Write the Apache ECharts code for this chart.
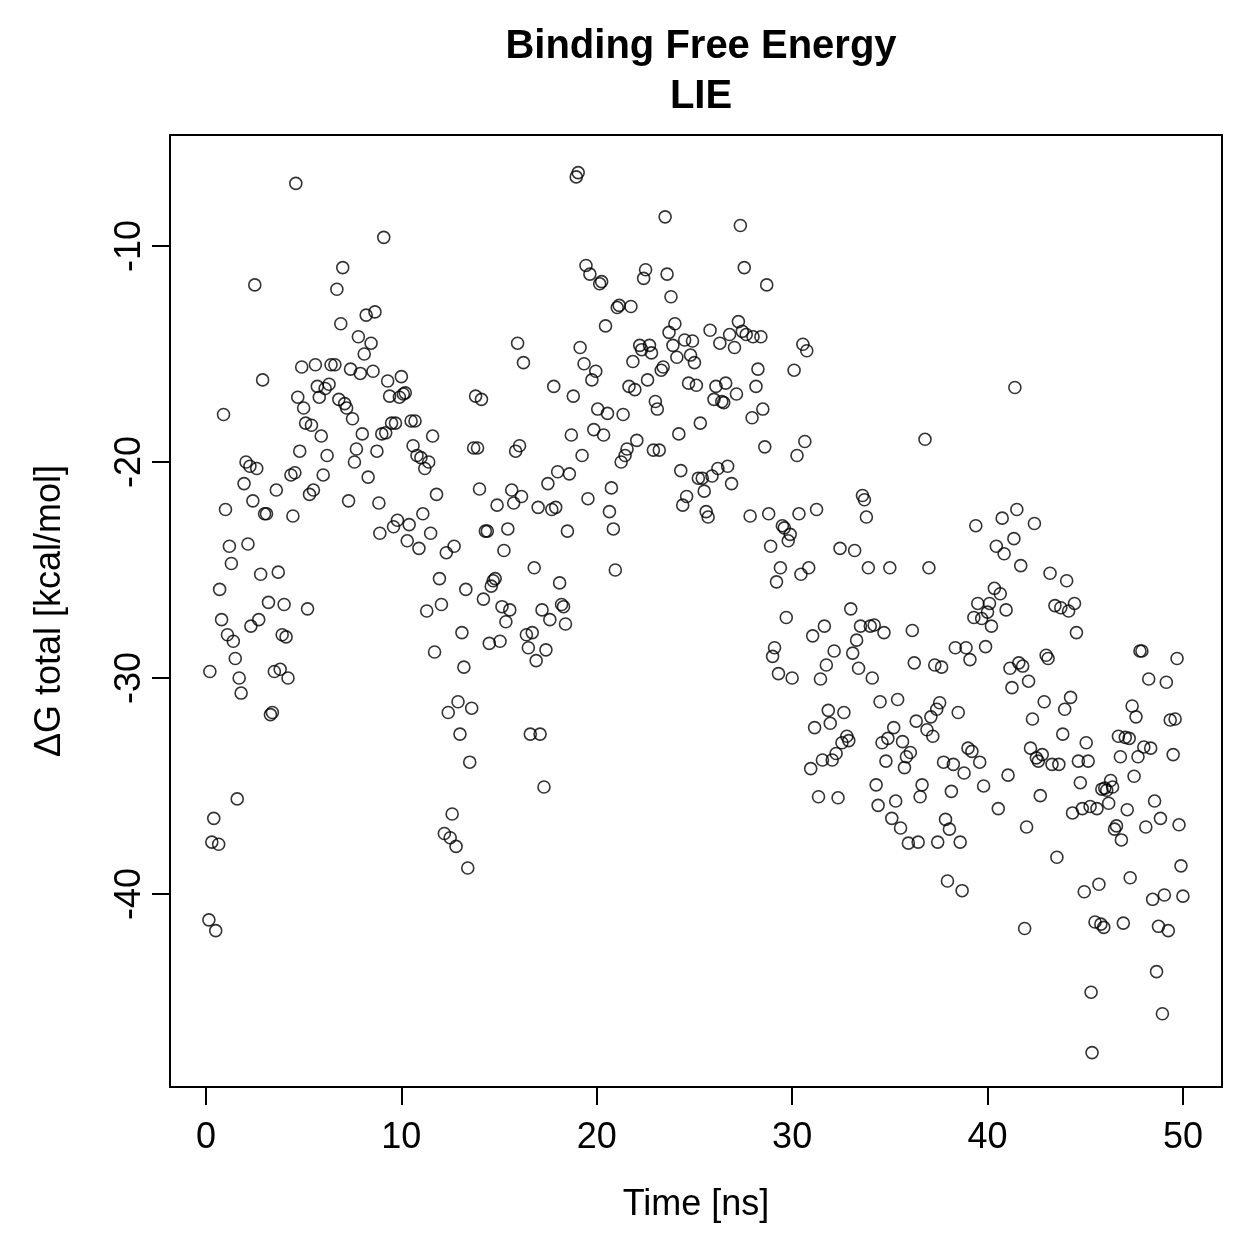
<!DOCTYPE html>
<html>
<head>
<meta charset="utf-8">
<script src="https://cdn.jsdelivr.net/npm/echarts@6/dist/echarts.min.js"></script>
<style>
  html, body { margin: 0; padding: 0; background: #fff; }
  #chart { width: 1259px; height: 1259px; }
</style>
</head>
<body>
<div id="chart"></div>
<script>
// time [ns]
const timeNs = [
  0.15, 0.2, 0.3, 0.4, 0.5, 0.65, 0.7, 0.8, 0.9, 1.0, 1.1, 1.2, 1.3, 1.4, 1.5, 1.6, 1.7, 1.8, 1.95, 2.05,
  2.15, 2.25, 2.3, 2.4, 2.5, 2.6, 2.7, 2.8, 2.9, 3.0, 3.1, 3.2, 3.3, 3.4, 3.5, 3.6, 3.7, 3.8, 3.9, 4.0,
  4.1, 4.2, 4.35, 4.45, 4.55, 4.6, 4.7, 4.8, 4.9, 5.0, 5.1, 5.2, 5.3, 5.4, 5.5, 5.6, 5.7, 5.8, 5.9, 6.0,
  6.1, 6.2, 6.3, 6.4, 6.6, 6.7, 6.8, 6.9, 7.0, 7.1, 7.2, 7.3, 7.4, 7.5, 7.6, 7.7, 7.8, 7.9, 8.0, 8.1,
  8.2, 8.3, 8.45, 8.55, 8.65, 8.75, 8.85, 8.9, 9.0, 9.1, 9.2, 9.3, 9.4, 9.5, 9.6, 9.7, 9.8, 9.9, 10.0, 10.1,
  10.2, 10.3, 10.4, 10.5, 10.6, 10.7, 10.8, 10.9, 11.0, 11.1, 11.2, 11.3, 11.4, 11.5, 11.6, 11.7, 11.8, 11.95, 12.05, 12.2,
  12.3, 12.4, 12.5, 12.6, 12.7, 12.8, 12.9, 13.0, 13.1, 13.2, 13.3, 13.4, 13.5, 13.6, 13.7, 13.8, 13.9, 14.0, 14.1, 14.2,
  14.3, 14.4, 14.5, 14.6, 14.7, 14.8, 14.9, 15.05, 15.15, 15.25, 15.35, 15.45, 15.55, 15.65, 15.75, 15.85, 15.95, 16.05, 16.15, 16.25,
  16.4, 16.5, 16.6, 16.7, 16.8, 16.9, 17.0, 17.1, 17.2, 17.3, 17.4, 17.5, 17.6, 17.7, 17.8, 17.9, 18.0, 18.1, 18.2, 18.3,
  18.4, 18.5, 18.6, 18.7, 18.8, 18.95, 19.05, 19.15, 19.25, 19.35, 19.45, 19.55, 19.65, 19.75, 19.85, 19.95, 20.05, 20.15, 20.25, 20.35,
  20.45, 20.55, 20.65, 20.75, 20.85, 20.95, 21.05, 21.15, 21.25, 21.35, 21.45, 21.55, 21.65, 21.75, 21.85, 21.95, 22.05, 22.2, 22.3, 22.4,
  22.5, 22.6, 22.7, 22.8, 22.9, 23.0, 23.1, 23.2, 23.3, 23.4, 23.5, 23.6, 23.7, 23.8, 23.9, 24.0, 24.1, 24.2, 24.3, 24.4,
  24.5, 24.6, 24.7, 24.8, 24.9, 25.0, 25.1, 25.2, 25.3, 25.4, 25.5, 25.6, 25.7, 25.8, 25.9, 26.0, 26.1, 26.2, 26.3, 26.4,
  26.5, 26.6, 26.7, 26.8, 26.9, 27.05, 27.15, 27.25, 27.35, 27.45, 27.55, 27.65, 27.85, 27.95, 28.0, 28.15, 28.25, 28.4, 28.5, 28.6,
  28.7, 28.8, 28.9, 29.0, 29.1, 29.2, 29.3, 29.4, 29.5, 29.6, 29.7, 29.8, 29.9, 30.0, 30.1, 30.25, 30.35, 30.45, 30.55, 30.65,
  30.75, 30.85, 30.95, 31.05, 31.15, 31.25, 31.35, 31.45, 31.55, 31.65, 31.75, 31.85, 31.95, 32.05, 32.15, 32.25, 32.35, 32.45, 32.55, 32.65,
  32.8, 32.9, 33.0, 33.1, 33.2, 33.3, 33.4, 33.5, 33.6, 33.7, 33.8, 33.9, 34.0, 34.1, 34.2, 34.3, 34.4, 34.5, 34.6, 34.7,
  34.8, 34.9, 35.0, 35.1, 35.2, 35.3, 35.4, 35.55, 35.65, 35.75, 35.85, 35.95, 36.05, 36.15, 36.25, 36.35, 36.45, 36.55, 36.65, 36.8,
  36.9, 37.0, 37.1, 37.2, 37.3, 37.4, 37.45, 37.55, 37.65, 37.75, 37.85, 37.95, 38.05, 38.15, 38.25, 38.35, 38.5, 38.6, 38.7, 38.8,
  38.9, 39.0, 39.1, 39.2, 39.3, 39.4, 39.5, 39.6, 39.7, 39.8, 39.9, 40.0, 40.1, 40.2, 40.35, 40.45, 40.55, 40.65, 40.75, 40.85,
  40.95, 41.05, 41.15, 41.25, 41.35, 41.4, 41.5, 41.6, 41.7, 41.8, 41.9, 42.0, 42.1, 42.2, 42.3, 42.4, 42.5, 42.6, 42.7, 42.8,
  42.9, 43.0, 43.1, 43.2, 43.3, 43.45, 43.55, 43.65, 43.75, 43.85, 43.95, 44.05, 44.15, 44.25, 44.35, 44.45, 44.55, 44.65, 44.75, 44.85,
  44.95, 45.05, 45.15, 45.25, 45.3, 45.35, 45.5, 45.6, 45.7, 45.8, 45.85, 45.95, 46.0, 46.1, 46.2, 46.3, 46.4, 46.5, 46.6, 46.7,
  46.8, 46.85, 46.95, 47.05, 47.15, 47.25, 47.3, 47.4, 47.5, 47.6, 47.7, 47.8, 47.9, 48.0, 48.1, 48.25, 48.35, 48.45, 48.55, 48.65,
  48.75, 48.85, 48.95, 49.05, 49.15, 49.25, 49.35, 49.5, 49.6, 49.7, 49.8, 49.9, 50.0
]

// dG total [kcal/mol], same order as timeNs
const dgTotal = [
  -41.2, -29.7, -37.6, -36.5, -41.7, -37.7, -25.9, -27.3, -17.8, -22.2, -28.0, -23.9, -24.7, -28.3, -29.1, -35.6, -30.0, -30.7, -21.0, -20.0,
  -23.8, -20.2, -27.6, -21.8, -11.8, -20.3, -27.3, -25.2, -16.2, -22.4, -22.4, -26.5, -31.7, -31.6, -29.7, -21.3, -25.1, -29.6, -28.0, -26.6,
  -28.1, -30.0, -20.6, -22.5, -20.5, -7.1, -17.0, -19.5, -15.6, -17.5, -18.2, -26.8, -21.5, -18.3, -21.3, -15.5, -16.5, -17.0, -18.8, -20.6,
  -16.6, -19.7, -16.4, -15.5, -15.5, -12.0, -17.1, -13.6, -11.0, -17.3, -17.5, -21.8, -15.7, -18.0, -20.0, -19.4, -14.2, -15.9, -18.7, -15.0,
  -13.2, -20.7, -14.5, -15.8, -13.05, -19.5, -21.9, -23.3, -18.7, -9.6, -18.65, -16.25, -16.95, -18.2, -23.0, -18.2, -22.7, -17.0, -16.05, -16.85,
  -16.8, -23.65, -22.9, -18.1, -19.25, -18.1, -19.7, -24.0, -19.8, -22.4, -20.3, -26.9, -20.0, -23.3, -18.8, -28.8, -21.5, -25.4, -26.6, -37.2,
  -24.2, -31.6, -37.4, -36.3, -23.9, -37.8, -31.1, -32.6, -27.9, -29.5, -25.9, -38.8, -33.9, -31.4, -19.35, -16.95, -19.35, -21.25, -17.1, -26.35,
  -23.2, -23.2, -28.4, -25.75, -25.5, -25.4, -22.0, -28.3, -26.7, -24.1, -27.4, -23.1, -26.85, -21.3, -21.9, -19.5, -14.5, -19.25, -21.6, -15.4,
  -28.0, -28.6, -32.6, -27.9, -24.9, -29.2, -22.1, -32.6, -26.85, -35.05, -28.7, -21.0, -27.3, -22.2, -16.5, -22.1, -20.45, -25.6, -26.6, -26.7,
  -27.5, -23.2, -20.55, -18.75, -16.95, -6.8, -6.6, -14.7, -19.7, -15.45, -10.9, -21.7, -11.3, -16.2, -18.5, -15.8, -17.55, -11.75, -11.65, -18.75,
  -13.7, -17.75, -22.3, -21.2, -23.1, -25.0, -12.85, -12.75, -20.0, -17.8, -19.7, -19.4, -16.5, -12.8, -15.35, -16.65, -19.0, -14.6, -14.8, -11.5,
  -11.1, -16.2, -14.6, -14.95, -19.45, -17.2, -17.55, -19.45, -15.75, -15.6, -8.65, -11.3, -14.0, -12.35, -14.6, -13.6, -15.15, -18.7, -20.4, -22.0,
  -14.35, -21.6, -16.35, -15.05, -14.4, -15.4, -16.45, -20.75, -18.2, -20.75, -21.35, -22.3, -22.55, -13.9, -20.65, -17.1, -16.5, -20.3, -14.5, -17.2,
  -17.25, -16.35, -20.2, -14.1, -21.0, -14.7, -16.85, -13.5, -9.05, -13.95, -11.0, -14.1, -22.5, -17.95, -14.2, -16.5, -15.7, -14.2, -17.55, -19.3,
  -11.8, -22.4, -23.9, -29.0, -28.6, -25.55, -29.8, -24.9, -22.95, -23.05, -27.2, -23.65, -23.35, -30.0, -15.75, -19.7, -22.4, -25.2, -14.55, -19.05,
  -14.85, -24.9, -34.2, -28.05, -32.3, -22.2, -35.5, -30.05, -33.8, -27.6, -29.4, -31.5, -32.1, -33.8, -28.75, -33.5, -35.55, -24.0, -33.0, -31.6,
  -32.7, -32.9, -26.8, -28.85, -24.1, -28.25, -29.55, -27.6, -21.55, -21.75, -22.55, -24.9, -27.6, -30.0, -27.55, -34.95, -35.9, -31.1, -33.0, -27.9,
  -33.85, -32.8, -24.9, -36.5, -32.3, -35.7, -31.0, -36.95, -32.95, -34.15, -33.65, -37.65, -33.45, -27.8, -29.3, -32.0, -37.6, -35.5, -34.95, -18.95,
  -32.4, -24.9, -31.8, -32.7, -29.4, -31.45, -37.6, -31.15, -29.5, -33.9, -36.55, -39.4, -37.0, -35.25, -34.0, -28.6, -31.6, -37.6, -39.85, -34.4,
  -28.6, -33.25, -29.15, -33.4, -27.2, -22.95, -26.55, -33.9, -27.25, -35.0, -28.55, -26.95, -26.55, -27.6, -25.85, -23.9, -36.05, -26.1, -22.6, -24.25,
  -26.85, -34.5, -29.55, -30.45, -23.55, -16.55, -22.2, -29.3, -24.8, -29.45, -41.6, -36.9, -30.15, -33.25, -31.9, -22.85, -33.7, -33.85, -35.45, -33.55,
  -31.1, -28.95, -29.1, -25.15, -34.0, -26.65, -38.3, -34.0, -26.75, -32.6, -31.45, -25.5, -26.9, -30.9, -36.25, -26.55, -27.9, -33.85, -34.85, -36.05,
  -39.9, -33.0, -33.85, -35.95, -44.55, -47.35, -41.3, -36.05, -39.55, -41.4, -35.15, -41.55, -35.1, -35.2, -35.8, -34.75, -35.05, -37.0, -36.85, -32.7,
  -33.65, -37.5, -41.35, -32.75, -36.1, -32.8, -39.25, -31.3, -34.55, -31.8, -33.65, -28.75, -28.75, -33.2, -36.9, -30.05, -33.25, -40.25, -35.7, -43.6,
  -41.5, -36.5, -45.55, -40.05, -30.2, -41.7, -31.95, -33.55, -31.9, -29.1, -36.8, -38.7, -40.1
]

const xTicks = [0, 10, 20, 30, 40, 50]
const yTicks = [-40, -30, -20, -10]

const chart = echarts.init(document.getElementById('chart'))
const font = 'Liberation Sans, Arial, Helvetica, sans-serif'

chart.setOption({
  backgroundColor: '#fff',
  animation: false,
  title: {
    text: 'Binding Free Energy\nLIE',
    left: 696,
    top: 17,
    textAlign: 'center',
    textStyle: {
      fontFamily: font,
      fontWeight: 'bold',
      fontSize: 40,
      lineHeight: 50,
      color: '#000',
    },
  },
  grid: {
    left: 170,
    top: 135,
    right: 37,
    bottom: 172,
    show: true,
    borderColor: '#000',
    borderWidth: 2,
    backgroundColor: 'transparent',
  },
  xAxis: {
    type: 'value',
    min: -1.84,
    max: 52.0,
    name: 'Time [ns]',
    nameLocation: 'middle',
    nameGap: 100,
    nameTextStyle: { fontFamily: font, fontSize: 36, color: '#000' },
    splitLine: { show: false },
    axisLine: { show: true, onZero: false, lineStyle: { color: '#000', width: 2 } },
    axisTick: {
      show: true,
      customValues: xTicks,
      length: 18,
      lineStyle: { color: '#000', width: 2 },
    },
    axisLabel: {
      customValues: xTicks,
      margin: 33,
      fontFamily: font,
      fontSize: 36,
      color: '#000',
    },
  },
  yAxis: {
    type: 'value',
    min: -48.94,
    max: -4.86,
    name: 'ΔG total [kcal/mol]',
    nameLocation: 'middle',
    nameGap: 102,
    nameTextStyle: { fontFamily: font, fontSize: 36, color: '#000' },
    splitLine: { show: false },
    axisLine: { show: true, onZero: false, lineStyle: { color: '#000', width: 2 } },
    axisTick: {
      show: true,
      customValues: yTicks,
      length: 18,
      lineStyle: { color: '#000', width: 2 },
    },
    axisLabel: {
      customValues: yTicks,
      rotate: 90,
      margin: 22,
      fontFamily: font,
      fontSize: 36,
      color: '#000',
    },
  },
  series: [
    {
      type: 'scatter',
      data: timeNs.map((t, i) => [t, dgTotal[i]]),
      symbol: 'circle',
      symbolSize: 12,
      itemStyle: {
        color: 'transparent',
        borderColor: '#000',
        borderWidth: 1.6,
      },
    },
  ],
})
</script>
</body>
</html>
